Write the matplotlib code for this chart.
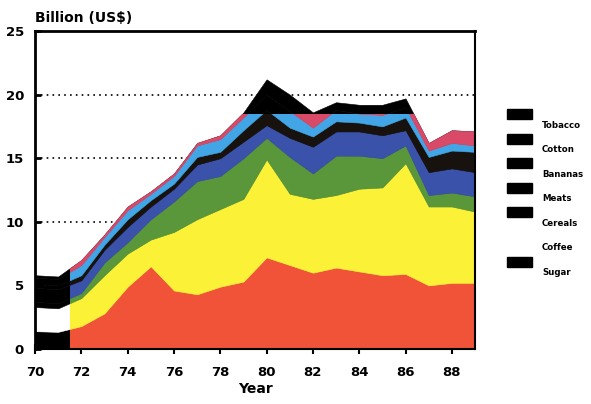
import matplotlib.pyplot as plt
from matplotlib.patches import Rectangle

# commodity export values, billion US$, 1970-1989
years = list(range(70, 90))
sugar   = [1.4, 1.35, 1.8, 2.8, 4.9, 6.5, 4.6, 4.3, 4.9, 5.3, 7.2, 6.6, 6.0, 6.4, 6.1, 5.8, 5.9, 5.0, 5.2, 5.2]
coffee  = [1.9, 1.85, 2.2, 3.0, 2.6, 2.1, 4.6, 5.9, 6.1, 6.5, 7.7, 5.6, 5.8, 5.7, 6.5, 6.9, 8.7, 6.2, 6.0, 5.6]
cereals = [0.4, 0.4, 0.4, 1.0, 0.9, 1.6, 2.4, 3.0, 2.6, 3.2, 1.7, 2.9, 2.0, 3.1, 2.6, 2.3, 1.4, 0.9, 1.1, 1.2]
meats   = [1.1, 1.1, 1.0, 1.0, 1.2, 1.0, 1.0, 1.3, 1.4, 1.3, 1.0, 1.5, 2.1, 1.9, 1.9, 1.8, 1.2, 1.8, 1.9, 1.9]
bananas = [0.3, 0.3, 0.4, 0.4, 0.6, 0.5, 0.4, 0.6, 0.5, 0.9, 1.2, 0.8, 0.8, 0.8, 0.7, 0.7, 1.0, 1.2, 1.4, 1.6]
cotton  = [0.5, 0.5, 0.8, 0.6, 0.7, 0.5, 0.6, 0.9, 1.0, 1.0, 1.2, 1.3, 0.7, 0.9, 0.7, 0.9, 0.8, 0.5, 0.6, 0.5]
tobacco = [0.2, 0.2, 0.4, 0.2, 0.3, 0.2, 0.2, 0.2, 0.3, 0.4, 1.2, 1.3, 1.2, 0.6, 0.7, 0.8, 0.7, 0.6, 1.0, 1.1]

labels = ['Sugar', 'Coffee', 'Cereals', 'Meats', 'Bananas', 'Cotton', 'Tobacco']
colors = ['#f05338', '#fbf136', '#5a963a', '#3a52aa', '#17120e', '#42a6e6', '#d84a68']
# how the scan rendered each layer outside the coloured part
bw_colors = ['black', 'white', 'black', 'black', 'black', 'black', 'black']

series = [sugar, coffee, cereals, meats, bananas, cotton, tobacco]

plt.rcParams['font.family'] = 'DejaVu Sans'
plt.rcParams['font.weight'] = 'bold'

fig = plt.figure(figsize=(5.91, 4.04), dpi=100)
ax = fig.add_axes([35/591, 1 - 349/404, 440/591, 318/404])

ax.set_xlim(70, 89)
ax.set_ylim(0, 25)
ax.set_yticks(range(0, 26, 5))
ax.set_xticks(range(70, 89, 2))
ax.set_xticks(range(71, 90, 2), minor=True)
ax.yaxis.grid(True, linestyle=(0, (1, 2.5)), color='black', linewidth=1.2)
ax.set_axisbelow(True)

# black and white layer underneath, coloured layer clipped on top
bw = ax.stackplot(years, series, colors=bw_colors, zorder=1)
polys = ax.stackplot(years, series, colors=colors, zorder=2)
clip = Rectangle((71.5, 0), 17.5, 18.5, transform=ax.transData)
for p in bw:
    p.set_edgecolor(p.get_facecolor())
    p.set_linewidth(0.4)
for p in polys:
    p.set_edgecolor(p.get_facecolor())
    p.set_linewidth(0.4)
    p.set_clip_path(clip)

for side in ['left', 'top']:
    ax.spines[side].set_linewidth(2)
for side in ['right', 'bottom']:
    ax.spines[side].set_linewidth(1.5)
for s in ax.spines.values():
    s.set_zorder(5)

ax.tick_params(axis='x', which='major', direction='inout', length=7, width=1.5, pad=9, labelsize=9.5)
ax.tick_params(axis='x', which='minor', direction='in', length=4, width=1.2)
ax.tick_params(axis='y', direction='in', length=4, width=2, pad=8, labelsize=9.5)
for lab in ax.get_xticklabels() + ax.get_yticklabels():
    lab.set_fontweight('bold')

ax.set_xlabel('Year', fontsize=10, fontweight='bold', labelpad=2)
fig.text(35/591, 1 - 18/404, 'Billion (US$)', fontsize=10, fontweight='bold', va='center', ha='left')

# legend drawn by hand: boxes sit above-left of their labels
for i, name in enumerate(labels[::-1]):
    ty = 125 + i * 24.6
    fig.text(542/591, 1 - ty/404, name, fontsize=6.2, fontweight='bold', va='center', ha='left')
    if name != 'Coffee':
        fig.add_artist(Rectangle((507/591, 1 - (ty - 6)/404), 25/591, 10/404,
                                 transform=fig.transFigure, color='black'))

plt.savefig('out.png', dpi=100)
